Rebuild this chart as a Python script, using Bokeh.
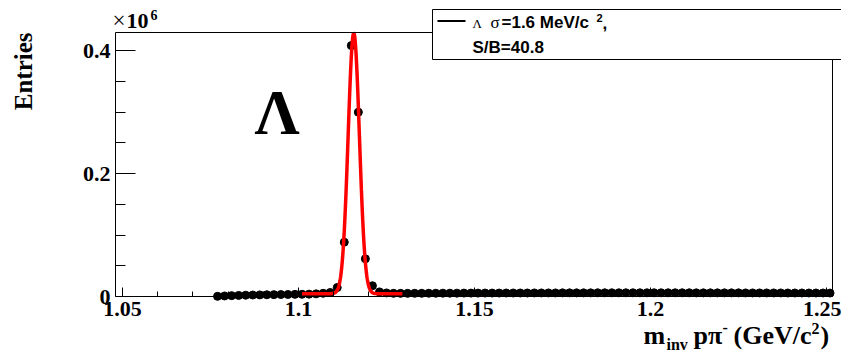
import numpy as np
from bokeh.plotting import figure
from bokeh.models import (Range1d, FixedTicker, CustomJSTickFormatter, Label,
                          BoxAnnotation, ColumnDataSource, LinearAxis)
from bokeh.embed import file_html
from bokeh.resources import INLINE

# invariant mass bin centres (GeV/c^2), 2 MeV bins
mass_bins = [
    1.077, 1.079, 1.081, 1.083, 1.085, 1.087, 1.089, 1.091, 1.093, 1.095,
    1.097, 1.099, 1.101, 1.103, 1.105, 1.107, 1.109, 1.111, 1.113, 1.115,
    1.117, 1.119, 1.121, 1.123, 1.125, 1.127, 1.129, 1.131, 1.133, 1.135,
    1.137, 1.139, 1.141, 1.143, 1.145, 1.147, 1.149, 1.151, 1.153, 1.155,
    1.157, 1.159, 1.161, 1.163, 1.165, 1.167, 1.169, 1.171, 1.173, 1.175,
    1.177, 1.179, 1.181, 1.183, 1.185, 1.187, 1.189, 1.191, 1.193, 1.195,
    1.197, 1.199, 1.201, 1.203, 1.205, 1.207, 1.209, 1.211, 1.213, 1.215,
    1.217, 1.219, 1.221, 1.223, 1.225, 1.227, 1.229, 1.231, 1.233, 1.235,
    1.237, 1.239, 1.241, 1.243, 1.245, 1.247, 1.249, 1.251,
]

# entries per bin
entries = [
    300, 900, 1400, 1800, 2100, 2400, 2600, 2800, 3000, 3200,
    3300, 3500, 3600, 3800, 4300, 5200, 6500, 14600, 88300, 408000,
    299700, 61300, 17500, 7500, 5800, 5200, 5100, 5100, 5200, 5200,
    5300, 5300, 5400, 5400, 5400, 5500, 5500, 5500, 5600, 5600,
    5600, 5700, 5700, 5700, 5700, 5800, 5800, 5800, 5800, 5900,
    5900, 5900, 5900, 5900, 6000, 6000, 6000, 6000, 6000, 6000,
    6000, 6000, 6000, 6000, 6000, 6000, 6000, 6000, 5900, 5900,
    5900, 5900, 5900, 5900, 5900, 5800, 5800, 5800, 5800, 5800,
    5800, 5700, 5700, 5700, 5700, 5700, 5700, 5600,
]

# Gaussian + flat background fit
fit_mean = 1.1157      # GeV/c^2
fit_sigma = 0.0016     # GeV/c^2  (1.6 MeV/c^2)
fit_amp = 424000
fit_bkg = 4500
fit_lo, fit_hi = 1.101, 1.1295

# visible histogram window
x_lo, x_hi = 1.04801, 1.2517
y_lo, y_hi = 0.0, 429300.0

x_major = [1.05, 1.10, 1.15, 1.20, 1.25]
x_minor = [1.06, 1.07, 1.08, 1.09, 1.11, 1.12, 1.13, 1.14, 1.16, 1.17,
           1.18, 1.19, 1.21, 1.22, 1.23, 1.24]
y_major = [0, 200000, 400000]
y_minor = [50000, 100000, 150000, 250000, 300000, 350000]

W, H = 841, 360
PAD_L, PAD_R, PAD_T, PAD_B = 115, 9, 32, 64
SERIF = "Liberation Serif"
SANS = "Liberation Sans"

# the plotting frame spans the whole canvas; the histogram window sits inside it
x_per_px = (x_hi - x_lo) / (W - PAD_L - PAD_R)
y_per_px = (y_hi - y_lo) / (H - PAD_T - PAD_B)
x_range = Range1d(x_lo - PAD_L * x_per_px, x_hi + PAD_R * x_per_px)
y_range = Range1d(y_lo - PAD_B * y_per_px, y_hi + PAD_T * y_per_px)

p = figure(width=W, height=H, x_range=x_range, y_range=y_range,
           output_backend="svg", toolbar_location=None, title=None,
           min_border=0, x_axis_type=None, y_axis_type=None)
p.xgrid.visible = False
p.ygrid.visible = False
p.outline_line_color = None
p.background_fill_color = "white"
p.border_fill_color = "white"


def style_labels(ax):
    ax.major_label_text_font = SERIF
    ax.major_label_text_font_style = "bold"
    ax.major_label_text_font_size = "22px"
    ax.major_label_text_color = "black"
    ax.major_label_standoff = 5
    ax.axis_line_color = "black"
    ax.major_tick_line_color = "black"
    ax.minor_tick_line_color = "black"


xa = LinearAxis(fixed_location=y_lo, bounds=(x_lo, x_hi),
                ticker=FixedTicker(ticks=x_major, minor_ticks=x_minor),
                formatter=CustomJSTickFormatter(
                    code="return String(Number(tick.toFixed(2)))"))
xa.major_tick_in, xa.major_tick_out = 9, 0
xa.minor_tick_in, xa.minor_tick_out = 5, 0
style_labels(xa)
p.add_layout(xa, "below")

ya = LinearAxis(fixed_location=x_lo, bounds=(y_lo, y_hi),
                ticker=FixedTicker(ticks=y_major, minor_ticks=y_minor),
                formatter=CustomJSTickFormatter(
                    code="return tick == 0 ? '0' : (tick / 1e6).toFixed(1)"))
ya.major_tick_in, ya.major_tick_out = 20, 0
ya.minor_tick_in, ya.minor_tick_out = 10, 0
style_labels(ya)
p.add_layout(ya, "left")

# top and right frame edges
for loc, side, bnds in ((y_hi, "above", (x_lo, x_hi)), (x_hi, "right", (y_lo, y_hi))):
    edge = LinearAxis(fixed_location=loc, bounds=bnds,
                      ticker=FixedTicker(ticks=[]), axis_line_color="black",
                      major_label_text_font_size="0px")
    p.add_layout(edge, side)

# histogram points
src = ColumnDataSource(dict(x=mass_bins, y=entries))
p.scatter("x", "y", source=src, size=8, color="black")

# fit curve
xf = np.linspace(fit_lo, fit_hi, 300)
yf = fit_bkg + fit_amp * np.exp(-0.5 * ((xf - fit_mean) / fit_sigma) ** 2)
p.line(xf, yf, color="#ff0000", line_width=3.5)

# labels are placed by their baseline; the renderer sets the baseline about
# 0.35 em below the anchor, so the anchor is raised by that amount
BASE_SHIFT = 0.35


def txt(s, x, y, size, font=SERIF, style="bold", align="left", vertical=False):
    """Place text with its baseline at canvas pixel (x, y) from the top-left."""
    if vertical:
        x, angle = x - BASE_SHIFT * size, np.pi / 2
    else:
        y, angle = y - BASE_SHIFT * size, 0.0
    p.add_layout(Label(x=x, y=H - y, x_units="screen", y_units="screen",
                       text=s, text_font=font, text_font_style=style,
                       text_font_size=f"{size}px", text_align=align,
                       text_baseline="alphabetic", angle=angle,
                       text_color="black"))


def box(left, right, top, bottom, fill, line):
    p.add_layout(BoxAnnotation(left=left, right=right, top=H - top,
                               bottom=H - bottom, left_units="screen",
                               right_units="screen", top_units="screen",
                               bottom_units="screen", fill_color=fill,
                               fill_alpha=1.0, line_color=line, line_alpha=1.0,
                               line_width=1))


# legend
box(432, 900, 9, 59, "white", "black")
box(437, 465, 19.5, 21.5, "black", None)
txt("\u039b", 472, 28, 13, style="normal")
txt("\u03c3", 490, 28, 17, style="normal")
txt("=1.6 MeV/c", 501, 28, 17, font=SANS)
txt("2", 596, 21, 11, font=SANS)
txt(",", 602, 28, 17, font=SANS)
txt("S/B=40.8", 472, 53, 17, font=SANS)

# exponent of the y axis
txt("\u00d7", 112, 28, 23, style="normal")
txt("10", 126, 28, 22)
txt("6", 150, 19, 14)

# axis titles
txt("Entries", 32, 32, 25, align="right", vertical=True)
txt("m", 643, 344, 26)
txt("inv", 666, 350, 16)
txt("p\u03c0", 693, 344, 26)
txt("-", 722, 333, 16)
txt("(GeV/c", 733, 344, 26)
txt("2", 811, 334, 16)
txt(")", 820, 344, 26)

# particle tag
txt("\u039b", 254, 135, 63)

open("out.html", "w").write(file_html(p, INLINE))
